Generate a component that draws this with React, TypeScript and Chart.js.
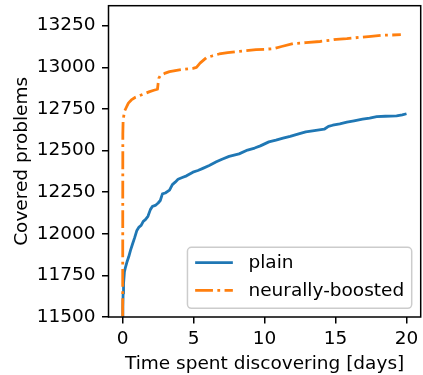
import { useEffect, useRef } from "react";
import { Chart, registerables } from "chart.js";

Chart.register(...registerables);

// Discovery progress over time for the two runs
const plainDays = [
  0, 0.01, 0.03, 0.06, 0.12, 0.2, 0.3, 0.42, 0.55, 0.7, 0.85, 1.0, 1.15, 1.3, 1.45, 1.6, 1.78, 1.95,
  2.1, 2.3, 2.5, 2.65, 2.8, 3.0, 3.3, 3.5, 3.7, 3.9, 4.2, 4.5, 4.95, 5.3, 5.65, 6.1, 6.6, 7.0, 7.5,
  8.2, 8.8, 9.3, 9.7, 10.3, 10.8, 11.3, 11.8, 12.4, 12.9, 13.5, 14.2, 14.5, 14.8, 15.3, 15.8, 16.3,
  16.9, 17.4, 17.9, 18.5, 19.3, 19.7, 20.0,
];
const plainCovered = [
  11505, 11560, 11640, 11700, 11770, 11800, 11830, 11860, 11900, 11940, 11978, 12020, 12040, 12050,
  12075, 12085, 12105, 12145, 12165, 12170, 12185, 12200, 12240, 12245, 12262, 12295, 12310, 12327,
  12338, 12348, 12370, 12380, 12393, 12410, 12432, 12448, 12465, 12480, 12503, 12515, 12528, 12552,
  12562, 12574, 12585, 12600, 12612, 12620, 12628, 12645, 12652, 12660, 12670, 12678, 12688, 12695,
  12704, 12706, 12708, 12714, 12721,
];
const boostedDays = [
  0, 0.005, 0.01, 0.03, 0.08, 0.15, 0.26, 0.4, 0.61, 0.9, 1.2, 1.5, 1.9, 2.2, 2.45, 2.5, 2.55, 2.65,
  3.0, 3.3, 3.8, 4.25, 4.95, 5.2, 5.45, 5.9, 6.3, 6.8, 7.4, 8.0, 8.7, 9.4, 10.0, 10.6, 11.2, 12.0,
  12.9, 13.9, 14.6, 15.05, 15.8, 16.7, 17.5, 18.3, 19.0, 19.6,
];
const boostedCovered = [
  11505, 12200, 12600, 12680, 12710, 12740, 12760, 12785, 12804, 12820, 12830, 12840, 12854, 12862,
  12868, 12905, 12935, 12950, 12965, 12974, 12982, 12988, 12994, 13000, 13025, 13058, 13068, 13080,
  13088, 13094, 13100, 13106, 13108, 13112, 13125, 13142, 13148, 13155, 13162, 13168, 13172, 13180,
  13186, 13193, 13194, 13196,
];

const seriesNames = ["plain", "neurally-boosted"];
const xTicks = [0, 5, 10, 15, 20];
const yTicks = [11500, 11750, 12000, 12250, 12500, 12750, 13000, 13250];
const xLabel = "Time spent discovering [days]";
const yLabel = "Covered problems";

const FONT_FAMILY = "'DejaVu Sans', sans-serif";
const FONT_SIZE = 18.5;
const BLUE = "#1f77b4";
const ORANGE = "#ff7f0e";

const toPoints = (xs: number[], ys: number[]) => xs.map((x, i) => ({ x, y: ys[i] }));

// Axes frame on all four sides
const framePlugin = {
  id: "frame",
  afterDatasetsDraw(chart: any) {
    const { ctx, chartArea } = chart;
    ctx.save();
    ctx.strokeStyle = "#000";
    ctx.lineWidth = 1.5;
    ctx.strokeRect(
      chartArea.left,
      chartArea.top,
      chartArea.right - chartArea.left,
      chartArea.bottom - chartArea.top
    );
    ctx.restore();
  },
};

// Boxed legend in the lower-right corner of the plot area
const insetLegendPlugin = {
  id: "insetLegend",
  afterDraw(chart: any) {
    const { ctx, chartArea } = chart;
    const items = chart.data.datasets.map((ds: any) => ({
      label: ds.label,
      color: ds.borderColor,
      dash: ds.borderDash || [],
      width: ds.borderWidth,
    }));
    ctx.save();
    ctx.font = `${FONT_SIZE}px ${FONT_FAMILY}`;
    const textW = Math.max(...items.map((it: any) => ctx.measureText(it.label).width));
    const padX = 7.7;
    const handle = 37.7;
    const gap = 15.6;
    const rowH = 27.7;
    const w = padX + handle + gap + textW + 7.5;
    const h = 61;
    const right = chartArea.right - 9;
    const bottom = chartArea.bottom - 8.7;
    const left = right - w;
    const top = bottom - h;

    ctx.beginPath();
    ctx.roundRect(left, top, w, h, 4);
    ctx.fillStyle = "rgba(255,255,255,0.8)";
    ctx.fill();
    ctx.strokeStyle = "#cccccc";
    ctx.lineWidth = 1.5;
    ctx.stroke();

    items.forEach((it: any, i: number) => {
      const cy = top + 15.4 + i * rowH;
      ctx.beginPath();
      ctx.setLineDash(it.dash);
      ctx.lineCap = "butt";
      ctx.strokeStyle = it.color;
      ctx.lineWidth = it.width;
      ctx.moveTo(left + padX, cy);
      ctx.lineTo(left + padX + handle, cy);
      ctx.stroke();
      ctx.setLineDash([]);
      ctx.fillStyle = "#000";
      ctx.textAlign = "left";
      ctx.textBaseline = "alphabetic";
      ctx.fillText(it.label, left + padX + handle + gap, cy + 5.6);
    });
    ctx.restore();
  },
};

export default function App() {
  const canvasRef = useRef<HTMLCanvasElement>(null);

  useEffect(() => {
    const canvas = canvasRef.current;
    if (!canvas) return;
    const font = { family: FONT_FAMILY, size: FONT_SIZE };
    const tickGrid = {
      drawOnChartArea: false,
      drawTicks: true,
      tickLength: 6.5,
      color: "#000",
      lineWidth: 1.5,
    };

    const chart = new Chart(canvas, {
      type: "line",
      data: {
        datasets: [
          {
            label: seriesNames[0],
            data: toPoints(plainDays, plainCovered),
            borderColor: BLUE,
            backgroundColor: BLUE,
            borderWidth: 2.8,
            borderJoinStyle: "round",
            pointRadius: 0,
            tension: 0,
            fill: false,
            order: 1,
          },
          {
            label: seriesNames[1],
            data: toPoints(boostedDays, boostedCovered),
            borderColor: ORANGE,
            backgroundColor: ORANGE,
            borderWidth: 2.8,
            borderDash: [17.8, 4.4, 2.8, 4.4],
            borderCapStyle: "butt",
            borderJoinStyle: "round",
            pointRadius: 0,
            tension: 0,
            fill: false,
            order: 0,
          },
        ],
      },
      options: {
        animation: false,
        responsive: false,
        devicePixelRatio: 1,
        layout: { padding: { top: 5.7, right: 2.3, left: 0, bottom: 0 } },
        plugins: {
          legend: { display: false },
          tooltip: { enabled: false },
        },
        scales: {
          x: {
            type: "linear",
            min: -1,
            max: 21,
            afterBuildTicks: (s: any) => {
              s.ticks = xTicks.map((v) => ({ value: v }));
            },
            afterFit: (s: any) => {
              s.height = 58;
              s.paddingLeft = 0;
              s.paddingRight = 0;
            },
            grid: tickGrid,
            border: { display: false },
            ticks: {
              padding: 4.4,
              color: "#000",
              font,
              maxRotation: 0,
              autoSkip: false,
              callback: (v: any) => String(v),
            },
            title: {
              display: true,
              text: xLabel,
              color: "#000",
              font,
              padding: { top: 0, bottom: 0 },
            },
          },
          y: {
            type: "linear",
            min: 11500,
            max: 13370,
            afterBuildTicks: (s: any) => {
              s.ticks = yTicks.map((v) => ({ value: v }));
            },
            afterFit: (s: any) => {
              s.width = 108.5;
              s.paddingTop = 0;
              s.paddingBottom = 0;
            },
            grid: tickGrid,
            border: { display: false },
            ticks: {
              padding: 6.5,
              color: "#000",
              font,
              autoSkip: false,
              callback: (v: any) => String(v),
            },
            title: {
              display: true,
              text: yLabel,
              color: "#000",
              font,
              padding: { top: 10.8, bottom: 0 },
            },
          },
        },
      },
      plugins: [framePlugin, insetLegendPlugin],
    } as any);

    return () => chart.destroy();
  }, []);

  return (
    <div
      style={{
        position: "fixed",
        left: 0,
        top: 0,
        width: 423,
        height: 375,
        background: "#fff",
      }}
    >
      <canvas
        ref={canvasRef}
        width={423}
        height={375}
        style={{ display: "block", width: 423, height: 375 }}
      />
    </div>
  );
}
